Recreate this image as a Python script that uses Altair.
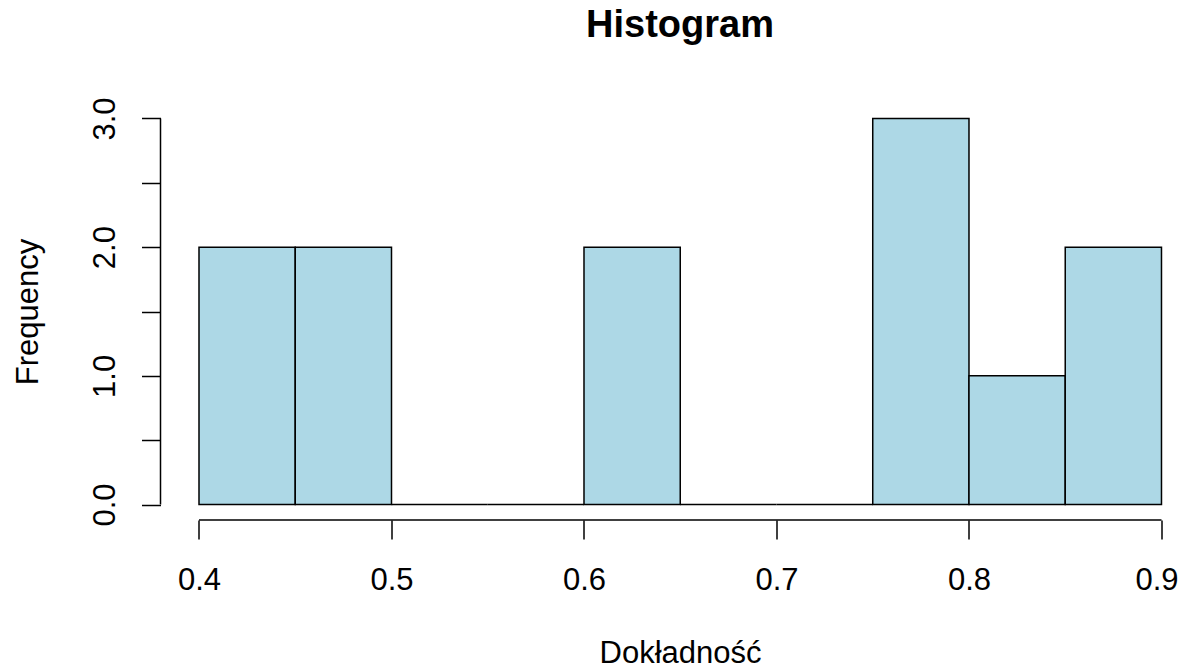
import altair as alt
import pandas as pd

# Histogram bins (Dokładność) and counts
bin_start = [0.40, 0.45, 0.50, 0.55, 0.60, 0.65, 0.70, 0.75, 0.80, 0.85]
bin_end = [0.45, 0.50, 0.55, 0.60, 0.65, 0.70, 0.75, 0.80, 0.85, 0.90]
counts = [2, 2, 0, 0, 2, 0, 0, 3, 1, 2]

x_ticks = [0.4, 0.5, 0.6, 0.7, 0.8, 0.9]
y_ticks = [0.0, 0.5, 1.0, 1.5, 2.0, 2.5, 3.0]

FONT = "Liberation Sans"

bars_df = pd.DataFrame({"bin_start": bin_start, "bin_end": bin_end, "count": counts})

x_scale = alt.Scale(domain=[0.38, 0.9078], nice=False, zero=False)
y_scale = alt.Scale(domain=[-0.12, 3.12], nice=False, zero=False)

bars = alt.Chart(bars_df).mark_rect(
    fill="#ADD8E6", stroke="black", strokeWidth=1.5
).encode(
    x=alt.X(
        "bin_start:Q",
        scale=x_scale,
        axis=alt.Axis(
            values=x_ticks,
            format=".1f",
            title="Dokładność",
            domain=False,
            grid=False,
            tickSize=19,
            tickWidth=1.5,
            tickColor="black",
            labelFont=FONT,
            labelFontSize=31,
            labelColor="black",
            labelBaseline="alphabetic",
            labelPadding=50,
            labelFlush=False,
            labelOverlap=False,
            labelOffset={"condition": {"test": "datum.value > 0.85", "value": -5}, "value": 0},
            titleFont=FONT,
            titleFontSize=31,
            titleFontWeight="normal",
            titleColor="black",
            titleBaseline="alphabetic",
            titleAlign="center",
            titleX=519.5,
            titleY=142,
        ),
    ),
    x2="bin_end:Q",
    y=alt.Y(
        "count:Q",
        scale=y_scale,
        axis=alt.Axis(
            values=y_ticks,
            labelExpr="datum.value % 1 == 0 ? format(datum.value, '.1f') : ''",
            title="Frequency",
            domain=False,
            grid=False,
            tickSize=19,
            tickWidth=1.5,
            tickColor="black",
            labelFont=FONT,
            labelFontSize=31,
            labelColor="black",
            labelAngle=270,
            labelAlign="center",
            labelBaseline="alphabetic",
            labelPadding=27,
            labelOverlap=False,
            titleFont=FONT,
            titleFontSize=31,
            titleFontWeight="normal",
            titleColor="black",
            titleAngle=270,
            titleAlign="center",
            titleBaseline="alphabetic",
            titleX=-123.5,
            titleY=208.5,
        ),
    ),
    y2=alt.datum(0),
)

xline_df = pd.DataFrame({"xs": [x_ticks[0]], "xe": [x_ticks[-1]], "yb": [-0.12]})
x_axis_line = alt.Chart(xline_df).mark_rule(color="black", strokeWidth=1.5).encode(
    x=alt.X("xs:Q", scale=x_scale),
    x2="xe:Q",
    y=alt.Y("yb:Q", scale=y_scale),
)

yline_df = pd.DataFrame({"xl": [0.38], "ys": [y_ticks[0]], "ye": [y_ticks[-1]]})
y_axis_line = alt.Chart(yline_df).mark_rule(color="black", strokeWidth=1.5).encode(
    x=alt.X("xl:Q", scale=x_scale),
    y=alt.Y("ys:Q", scale=y_scale),
    y2="ye:Q",
)

chart = alt.layer(bars, x_axis_line, y_axis_line).properties(
    width=1016,
    height=417,
    padding={"left": 152.5, "top": 95, "right": 2.5, "bottom": 143},
    autosize=alt.AutoSizeParams(type="none"),
    background="white",
    title=alt.TitleParams(
        text="Histogram",
        font=FONT,
        fontSize=38,
        fontWeight="bold",
        color="black",
        anchor="middle",
        frame="group",
        dx=11.5,
        baseline="alphabetic",
        offset=22,
    ),
).configure_view(stroke=None)

chart.save("out.html", embed_options={"renderer": "svg", "actions": False})
